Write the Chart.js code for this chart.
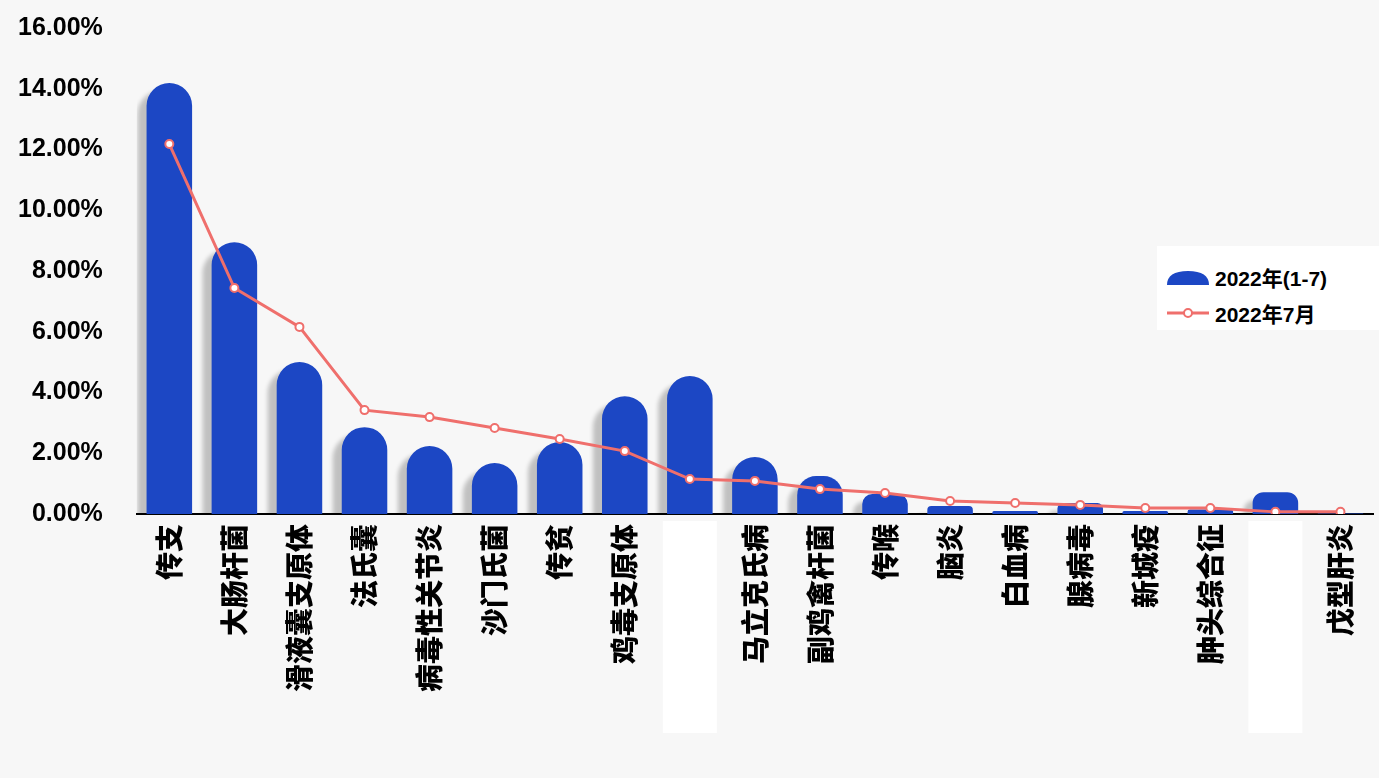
<!DOCTYPE html>
<html><head><meta charset="utf-8">
<script src="https://cdn.jsdelivr.net/npm/chart.js@4/dist/chart.umd.min.js"></script>
<style>
html,body{margin:0;padding:0;background:#f7f7f7;overflow:hidden;}
#wrap{position:relative;width:1379px;height:778px;overflow:hidden;}
#c{position:absolute;left:0;top:-13px;}
#legend{position:absolute;left:1157px;top:246px;width:222px;height:84px;background:#fff;font-family:"Liberation Sans","Noto Sans CJK SC",Arial,sans-serif;font-weight:bold;font-size:21px;color:#000;}
.li{position:absolute;left:8px;display:flex;align-items:center;}
</style></head><body>
<div id="wrap"><canvas id="c" width="1379" height="791"></canvas>
<div id="legend">
<div class="li" style="top:16px"><svg width="46" height="20"><path d="M2 18 Q2 4 23 4 Q44 4 44 18 Z" fill="#1c47c4"/></svg><span style="margin-left:4px">2022年(1-7)</span></div>
<div class="li" style="top:52px"><svg width="46" height="20"><line x1="2" y1="10" x2="44" y2="10" stroke="#ef6f6c" stroke-width="3"/><circle cx="23" cy="10" r="4" fill="#fff" stroke="#ef6f6c" stroke-width="2"/></svg><span style="margin-left:4px">2022年7月</span></div>
</div></div>
<script>
const categories=["传支","大肠杆菌","滑液囊支原体","法氏囊","病毒性关节炎","沙门氏菌","传贫","鸡毒支原体","","马立克氏病","副鸡禽杆菌","传喉","脑炎","白血病","腺病毒","新城疫","肿头综合征","","戊型肝炎"];
const seriesYear=[14.19,8.95,5.0,2.86,2.24,1.68,2.37,3.88,4.54,1.88,1.25,0.66,0.26,0.1,0.36,0.1,0.15,0.72,0.02];
const seriesJuly=[12.18,7.44,6.16,3.42,3.19,2.83,2.47,2.07,1.15,1.09,0.82,0.69,0.43,0.36,0.30,0.2,0.2,0.07,0.07];
const yTicks=[0,2,4,6,8,10,12,14,16];
const blankIdx=[8,17];

const shadowPlugin={id:'sh',
 beforeDatasetDraw(ch,a){ if(a.index===1){ch.ctx.save();ch.ctx.shadowColor='rgba(0,0,0,0.22)';ch.ctx.shadowOffsetX=-9;ch.ctx.shadowOffsetY=8;ch.ctx.shadowBlur=4;} },
 afterDatasetDraw(ch,a){ if(a.index===1){ch.ctx.restore();} },
 afterDraw(ch){const x=ch.scales.x,ctx=ch.ctx;ctx.save();ctx.fillStyle='#fff';
   blankIdx.forEach(i=>{const px=x.getPixelForValue(i);ctx.fillRect(px-27,x.top+7,54,212);});ctx.restore();}
};
Chart.defaults.font.family='"Liberation Sans","Noto Sans CJK SC",Arial,sans-serif';
Chart.defaults.font.weight='bold';
Chart.defaults.color='#000';
new Chart(document.getElementById('c'),{
 data:{labels:categories,datasets:[
  {type:'line',label:'2022年7月',data:seriesJuly,borderColor:'#ef6f6c',borderWidth:3,pointRadius:4,pointBorderWidth:2,pointBackgroundColor:'#fff',pointBorderColor:'#ef6f6c',order:0,tension:0},
  {type:'bar',label:'2022年(1-7)',data:seriesYear,backgroundColor:'#1c47c4',borderRadius:{topLeft:23,topRight:23,bottomLeft:0,bottomRight:0},borderSkipped:'bottom',barPercentage:0.7,categoryPercentage:1,order:1}
 ]},
 options:{responsive:false,animation:false,
  layout:{padding:{top:-15,right:-34,left:-8,bottom:82}},
  plugins:{legend:{display:false},tooltip:{enabled:false}},
  scales:{
   x:{grid:{display:false,drawTicks:true,tickLength:6,color:'#000'},border:{color:'#000',width:2},
      ticks:{minRotation:90,maxRotation:90,font:{family:'"Noto Sans CJK SC",sans-serif',size:28,weight:'900'},padding:4}},
   y:{min:0,max:16,afterBuildTicks(s){s.ticks=yTicks.map(v=>({value:v}));},
      grid:{display:false},border:{display:false},
      ticks:{font:{size:25},padding:26,callback:v=>v.toFixed(2)+'%'}}
  }},
 plugins:[shadowPlugin]
});
</script></body></html>
